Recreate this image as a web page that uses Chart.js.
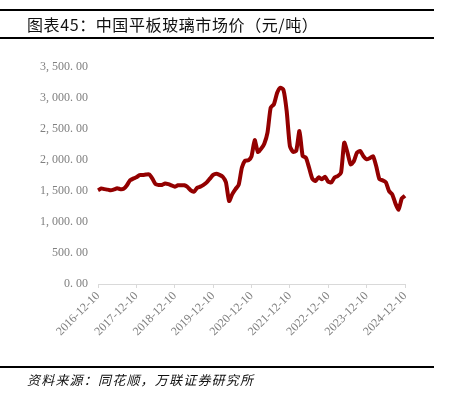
<!DOCTYPE html>
<html>
<head>
<meta charset="utf-8">
<script src="https://cdn.jsdelivr.net/npm/chart.js@4/dist/chart.umd.min.js"></script>
<style>
  html, body { margin: 0; padding: 0; background: #fff; }
  body { width: 449px; height: 394px; position: relative; overflow: hidden; }
  #wrap { position: absolute; left: 0; top: 0; width: 449px; height: 394px; }
  .rule { position: absolute; left: 0; width: 434px; height: 2px; background: #000; }
  #title { position: absolute; left: 27px; top: 12px; font-family: "Noto Sans CJK SC", sans-serif; font-size: 16px; color: #111; white-space: nowrap; letter-spacing: 0.6px; }
  #source { position: absolute; left: 27px; top: 370px; font-family: "Noto Sans CJK SC", sans-serif; font-size: 13px; font-style: italic; color: #111; white-space: nowrap; letter-spacing: 1.2px; }
</style>
</head>
<body>
<div id="wrap"><canvas id="c" width="449" height="394"></canvas></div>
<div class="rule" style="top:9px"></div>
<div class="rule" style="top:37px"></div>
<div id="title">图表45：中国平板玻璃市场价（元/吨）</div>
<div class="rule" style="top:366px"></div>
<div id="source">资料来源：同花顺，万联证券研究所</div>
<script>
const startYear = 2016;
const startMonth = 12;
const prices = [
  1511, 1540, 1530, 1522, 1511, 1525, 1543, 1530, 1535, 1590, 1670, 1700,
  1720, 1758, 1758, 1765, 1769, 1700, 1610, 1597, 1597, 1620, 1610, 1590,
  1570, 1592, 1592, 1592, 1565, 1510, 1489, 1550, 1570, 1600, 1640, 1700,
  1760, 1779, 1760, 1730, 1640, 1339, 1450, 1530, 1600, 1880, 1990, 1995,
  2060, 2320, 2130, 2180, 2263, 2441, 2844, 2898, 3080, 3166, 3130, 2790,
  2226, 2130, 2150, 2468, 2065, 2038, 1876, 1700, 1660, 1720, 1690, 1730,
  1650, 1640, 1720, 1742, 1795, 2279, 2120, 1930, 1980, 2120, 2145, 2060,
  2011, 2030, 2060, 1900, 1690, 1672, 1640, 1500, 1446, 1300, 1200, 1380,
  1425
];
const yTicks = [0, 500, 1000, 1500, 2000, 2500, 3000, 3500];
const tickEvery = 12;

const labels = [];
for (let i = 0; i < prices.length; i++) {
  const m0 = startMonth - 1 + i;
  const y = startYear + Math.floor(m0 / 12);
  const m = (m0 % 12) + 1;
  labels.push(y + '-' + String(m).padStart(2, '0') + '-10');
}

function fmt(v) {
  const s = Number(v).toLocaleString('en-US', { minimumFractionDigits: 2, maximumFractionDigits: 2 });
  return s.replace(',', ', ').replace('.', '. ');
}

const tickFont = { family: '"Liberation Serif", "DejaVu Serif", serif', size: 12 };

new Chart(document.getElementById('c'), {
  type: 'line',
  data: {
    labels: labels,
    datasets: [{
      data: prices,
      borderColor: '#930000',
      borderWidth: 4,
      pointRadius: 0,
      tension: 0.2,
      fill: false
    }]
  },
  options: {
    responsive: false,
    animation: false,
    devicePixelRatio: 1,
    plugins: { legend: { display: false }, tooltip: { enabled: false } },
    layout: { padding: { left: 0, right: 44, top: 67, bottom: 0 } },
    scales: {
      x: {
        type: 'category',
        offset: false,
        border: { display: true, color: '#d9d9d9', width: 1 },
        grid: { display: true, drawOnChartArea: false, drawTicks: true, tickLength: 4, color: '#d9d9d9' },
        ticks: {
          autoSkip: false,
          maxRotation: 45,
          minRotation: 45,
          color: '#808080',
          font: tickFont,
          padding: 1,
          callback: function (val, idx) { return idx % tickEvery === 0 ? labels[idx] : null; }
        },
        afterFit: function (s) { s.height = 110; }
      },
      y: {
        min: 0,
        max: 3500,
        border: { display: false },
        grid: { display: false, drawTicks: false },
        afterBuildTicks: function (s) { s.ticks = yTicks.map(v => ({ value: v })); },
        ticks: {
          color: '#808080',
          font: tickFont,
          padding: 10,
          callback: function (v) { return fmt(v); }
        },
        afterFit: function (s) { s.width = 98; }
      }
    }
  }
});
</script>
</body>
</html>
